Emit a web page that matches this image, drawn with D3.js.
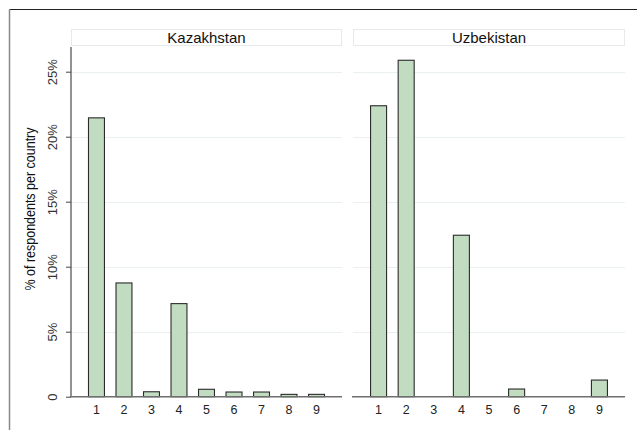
<!DOCTYPE html>
<html>
<head>
<meta charset="utf-8">
<script src="https://cdn.jsdelivr.net/npm/d3@7"></script>
<style>
  html, body { margin: 0; padding: 0; background: #fff; }
  svg { display: block; font-family: Arial, "Liberation Sans", Helvetica, sans-serif; }
</style>
</head>
<body>
<svg id="chart" width="637" height="430"></svg>
<script>
// Response categories and share of respondents (%) per country
const categories = [1, 2, 3, 4, 5, 6, 7, 8, 9];
const countries = ["Kazakhstan", "Uzbekistan"];
const kazakhstan = [21.45, 8.75, 0.38, 7.16, 0.57, 0.36, 0.36, 0.18, 0.18];
const uzbekistan = [22.38, 25.88, 0, 12.42, 0, 0.59, 0, 0, 1.28];
const yTicks = [0, 5, 10, 15, 20, 25];
const yTickLabels = ["0", "5%", "10%", "15%", "20%", "25%"];

const seriesByCountry = [kazakhstan, uzbekistan];

const svg = d3.select("#chart");
const W = 637, H = 430;

// outer frame (top and left edges visible)
svg.append("line").attr("x1", 9.5).attr("x2", W).attr("y1", 9.5).attr("y2", 9.5)
  .attr("stroke", "#222").attr("stroke-width", 1);
svg.append("line").attr("x1", 9.5).attr("x2", 9.5).attr("y1", 9.5).attr("y2", H)
  .attr("stroke", "#888").attr("stroke-width", 1.5);

const plotTop = 47, plotBottom = 396.7;
const panels = [
  { x0: 71, x1: 342 },
  { x0: 353, x1: 625 }
];

const y = d3.scaleLinear()
  .domain([0, (plotBottom - plotTop) / 13])
  .range([plotBottom, plotTop]);

panels.forEach((p, i) => {
  const g = svg.append("g");
  const x = d3.scaleBand()
    .domain(categories)
    .range([p.x0, p.x1])
    .paddingInner(0.42)
    .paddingOuter(0.636);

  // subtitle strip
  g.append("rect")
    .attr("x", p.x0 + 0.5).attr("y", 29.5)
    .attr("width", p.x1 - p.x0 - 1).attr("height", 16)
    .attr("fill", "#fff").attr("stroke", "#e6eaea").attr("stroke-width", 1);
  g.append("text")
    .attr("x", (p.x0 + p.x1) / 2).attr("y", 43)
    .attr("text-anchor", "middle")
    .attr("font-size", 15).attr("fill", "#111")
    .text(countries[i]);

  // horizontal gridlines
  g.append("g")
    .selectAll("line")
    .data(yTicks.filter(t => t > 0))
    .join("line")
    .attr("x1", p.x0).attr("x2", p.x1)
    .attr("y1", d => Math.round(y(d)) + 0.5).attr("y2", d => Math.round(y(d)) + 0.5)
    .attr("stroke", "#eaf0f1").attr("stroke-width", 1);

  // bars
  g.append("g")
    .selectAll("rect")
    .data(categories.map((c, j) => ({ c, v: seriesByCountry[i][j] })).filter(d => d.v > 0))
    .join("rect")
    .attr("x", d => x(d.c))
    .attr("y", d => y(d.v))
    .attr("width", x.bandwidth())
    .attr("height", d => y(0) - y(d.v))
    .attr("fill", "#c1dcc1")
    .attr("stroke", "#2b2b2b")
    .attr("stroke-width", 1.1);

  // x axis
  const xAxis = d3.axisBottom(x).tickSize(0).tickPadding(8);
  const xg = g.append("g")
    .attr("transform", `translate(0,${plotBottom})`)
    .call(xAxis);
  xg.select(".domain").remove();
  xg.append("line")
    .attr("x1", p.x0 - 1).attr("x2", p.x1)
    .attr("y1", 0).attr("y2", 0)
    .attr("stroke", "#6f6f6f").attr("stroke-width", 1.4);
  xg.selectAll(".tick text")
    .attr("font-size", 12.5).attr("fill", "#222")
    .attr("font-family", "Arial, 'Liberation Sans', sans-serif");

  // y axis on the first panel only
  if (i === 0) {
    const yAxis = d3.axisLeft(y)
      .tickValues(yTicks)
      .tickFormat((d, k) => yTickLabels[k])
      .tickSize(5).tickPadding(12);
    const yg = g.append("g")
      .attr("transform", `translate(${p.x0},0)`)
      .call(yAxis);
    yg.select(".domain")
      .attr("d", `M0,${plotTop}V${plotBottom}`)
      .attr("stroke", "#777").attr("stroke-width", 1.6);
    yg.selectAll(".tick line").attr("stroke", "#444").attr("stroke-width", 1);
    yg.selectAll(".tick text")
      .attr("font-size", 13).attr("fill", "#333")
      .attr("font-family", "Arial, 'Liberation Sans', sans-serif")
      .attr("text-anchor", "middle")
      .attr("dy", null)
      .attr("x", null)
      .attr("transform", "translate(-17,0) rotate(-90)")
      .attr("y", 0)
      .attr("dominant-baseline", "middle");
  }
});

// y axis title
svg.append("text")
  .attr("transform", "translate(35,209) rotate(-90)")
  .attr("text-anchor", "middle")
  .attr("font-size", 14).attr("fill", "#111")
  .attr("textLength", 163).attr("lengthAdjust", "spacingAndGlyphs")
  .text("% of respondents per country");
</script>
</body>
</html>
